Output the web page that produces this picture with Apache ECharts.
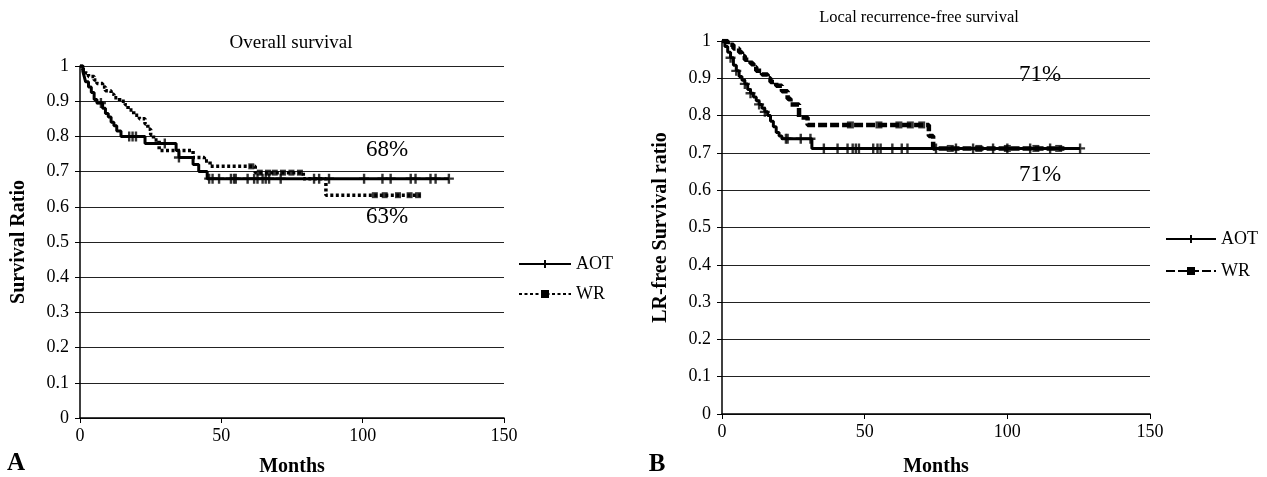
<!DOCTYPE html>
<html>
<head>
<meta charset="utf-8">
<script src="https://cdn.jsdelivr.net/npm/echarts@6/dist/echarts.min.js"></script>
<style>
html,body{margin:0;padding:0;background:#fff;}
#chart{width:1267px;height:477px;}
</style>
</head>
<body>
<div id="chart"></div>
<script>
// ---- Data ----
const xTicks = [0, 50, 100, 150];
const seriesNames = ['AOT', 'WR'];

// Panel A: Overall survival, Kaplan-Meier steps [month, survival]
const osAOT = [[0,1],[1,0.985],[1.5,0.97],[2,0.955],[3,0.94],[4,0.925],[5,0.905],[6,0.895],[8,0.88],[9,0.865],[10,0.855],[11,0.84],[12,0.83],[13,0.815],[14.5,0.80],[23,0.78],[34,0.76],[35,0.74],[40,0.72],[42,0.70],[45,0.68],[130.5,0.68]];
const osWR  = [[0,1],[1,0.99],[2,0.98],[3,0.97],[5,0.96],[6,0.95],[8,0.94],[9,0.93],[11,0.92],[12,0.91],[14,0.90],[16,0.89],[17,0.875],[19,0.86],[21,0.85],[23,0.835],[24,0.82],[25,0.805],[26,0.79],[28,0.76],[40,0.74],[44,0.73],[46,0.715],[62,0.697],[79,0.68],[87,0.633],[120.5,0.633]];
const osAOTCensored = [7.4,17.4,18.6,19.8,30,35,45.7,46.9,49.2,53.4,54.5,55.1,59.3,61.6,62.8,64.6,65.7,66.9,71,82.8,84.6,88.1,100.5,107,109.9,117,118.7,124,125.8,130.5];
const osWRCensored  = [60.6,63.6,66.5,68.9,71.8,74.8,77.8,104.3,107.8,112.5,116.6,119.6];

// Panel B: Local recurrence-free survival
const lrAOT = [[0,1],[1,0.985],[2,0.97],[3,0.955],[4,0.935],[5,0.92],[6,0.905],[7,0.895],[8,0.885],[9,0.87],[10,0.86],[11,0.85],[12,0.84],[13,0.83],[14,0.82],[15,0.81],[16,0.80],[17,0.785],[18,0.77],[19,0.755],[20,0.745],[21,0.738],[31.5,0.712],[125.5,0.712]];
const lrWR  = [[0,1],[2,0.99],[4,0.98],[6,0.97],[7,0.96],[8,0.95],[10,0.94],[11,0.93],[12,0.92],[14,0.91],[16,0.90],[17,0.89],[19,0.88],[21,0.865],[23,0.845],[24,0.83],[27,0.795],[30,0.775],[72.5,0.745],[74,0.712],[120,0.712]];
const lrAOTCensored = [3,5,8,10,13,15,22.4,23,27.6,31,35.7,40.5,44,45.8,46.9,48,53,54.5,55.6,59.7,63,65,75,82,88,95,100,108,115,125.5];
const lrWRCensored  = [45,55,62,66,70,80,90,100,110,118];

// Annotation texts
const osLabels = ['68%', '63%'];
const lrLabels = ['71%', '71%'];

// ---- Chart ----
const SERIF = "'Liberation Serif','Times New Roman',serif";
const PLUS = 'path://M3.8,0H6.2V3.8H10V6.2H6.2V10H3.8V6.2H0V3.8H3.8Z';

function stepAt(curve, t) {
  let v = curve[0][1];
  for (const p of curve) { if (p[0] <= t) v = p[1]; else break; }
  return v;
}
function censorPoints(curve, times) { return times.map(t => [t, stepAt(curve, t)]); }

function yAxisCfg(idx, name) {
  return {
    type: 'value', gridIndex: idx, min: 0, max: 1, interval: 0.1,
    name: name, nameLocation: 'middle', nameGap: 51,
    nameTextStyle: { fontFamily: SERIF, fontWeight: 'bold', fontSize: 20, color: '#000' },
    axisLine: { show: true, lineStyle: { color: '#000', width: 1.5 } },
    axisTick: { show: true, length: 5, lineStyle: { color: '#000' } },
    axisLabel: { fontFamily: SERIF, fontSize: 18, color: '#000', margin: 11 },
    splitLine: { show: true, lineStyle: { color: '#222', width: 1 } }
  };
}
function xAxisCfg(idx, gap) {
  return {
    type: 'value', gridIndex: idx, min: xTicks[0], max: xTicks[xTicks.length-1], interval: xTicks[1]-xTicks[0],
    name: 'Months', nameLocation: 'middle', nameGap: gap,
    nameTextStyle: { fontFamily: SERIF, fontWeight: 'bold', fontSize: 20, color: '#000' },
    axisLine: { show: true, onZero: false, lineStyle: { color: '#000', width: 1.5 } },
    axisTick: { show: true, length: 5, lineStyle: { color: '#000' } },
    axisLabel: { fontFamily: SERIF, fontSize: 18, color: '#000', margin: 9 },
    splitLine: { show: false }
  };
}
function curveSeries(name, idx, data, lineStyle, symbol, symbolSize) {
  return {
    name: name, type: 'line', xAxisIndex: idx, yAxisIndex: idx, data: data, step: 'end',
    showSymbol: false, symbol: symbol, symbolSize: symbolSize,
    lineStyle: Object.assign({ color: '#000' }, lineStyle),
    itemStyle: { color: '#000' }, silent: true, z: 3
  };
}
function censorSeries(idx, data, symbol, size) {
  return {
    type: 'scatter', xAxisIndex: idx, yAxisIndex: idx, data: data,
    symbol: symbol, symbolSize: size, itemStyle: { color: '#000' }, silent: true, z: 4
  };
}

const txt = (text, x, y, size, bold) => ({
  type: 'text', x: x, y: y,
  style: { text: text, fontFamily: SERIF, fontSize: size, fontWeight: bold ? 'bold' : 'normal',
           fill: '#000', textAlign: 'center', textVerticalAlign: 'middle' }
});

const chart = echarts.init(document.getElementById('chart'), null, { renderer: 'canvas' });
chart.setOption({
  animation: false,
  backgroundColor: '#fff',
  textStyle: { fontFamily: SERIF },
  grid: [
    { left: 80, top: 66, width: 424, height: 352, containLabel: false, outerBoundsMode: 'none' },
    { left: 722, top: 41, width: 428, height: 373, containLabel: false, outerBoundsMode: 'none' }
  ],
  xAxis: [xAxisCfg(0, 39), xAxisCfg(1, 43)],
  yAxis: [yAxisCfg(0, 'Survival Ratio'), yAxisCfg(1, 'LR-free Survival ratio')],
  legend: [
    { data: seriesNames, orient: 'vertical', left: 513, top: 250, itemWidth: 52, itemHeight: 10, itemGap: 12,
      textStyle: { fontFamily: SERIF, fontSize: 18, color: '#000' }, selectedMode: false },
    { data: seriesNames.map(n => n + ' '), orient: 'vertical', left: 1160, top: 225, itemWidth: 50, itemHeight: 10, itemGap: 14,
      formatter: n => n.trim(),
      textStyle: { fontFamily: SERIF, fontSize: 18, color: '#000' }, selectedMode: false }
  ],
  graphic: [
    txt('Overall survival', 291, 43, 19, false),
    txt('Local recurrence-free survival', 919, 18, 16.5, false),
    txt(osLabels[0], 387, 150, 23, false),
    txt(osLabels[1], 387, 217, 23, false),
    txt(lrLabels[0], 1040, 75, 23, false),
    txt(lrLabels[1], 1040, 175, 23, false),
    txt('A', 16, 464, 25, true),
    txt('B', 657, 465, 25, true)
  ],
  series: [
    curveSeries('AOT', 0, osAOT, { width: 3, type: 'solid' }, PLUS, 10),
    curveSeries('WR', 0, osWR, { width: 3.5, type: [3, 2.5] }, 'rect', 6),
    censorSeries(0, censorPoints(osAOT, osAOTCensored), PLUS, 10),
    censorSeries(0, censorPoints(osWR, osWRCensored), 'rect', 6),
    curveSeries('AOT ', 1, lrAOT, { width: 3, type: 'solid' }, PLUS, 10),
    curveSeries('WR ', 1, lrWR, { width: 4.5, type: [9, 3] }, 'rect', 7),
    censorSeries(1, censorPoints(lrAOT, lrAOTCensored), PLUS, 10),
    censorSeries(1, censorPoints(lrWR, lrWRCensored), 'rect', 7)
  ]
});
</script>
</body>
</html>
